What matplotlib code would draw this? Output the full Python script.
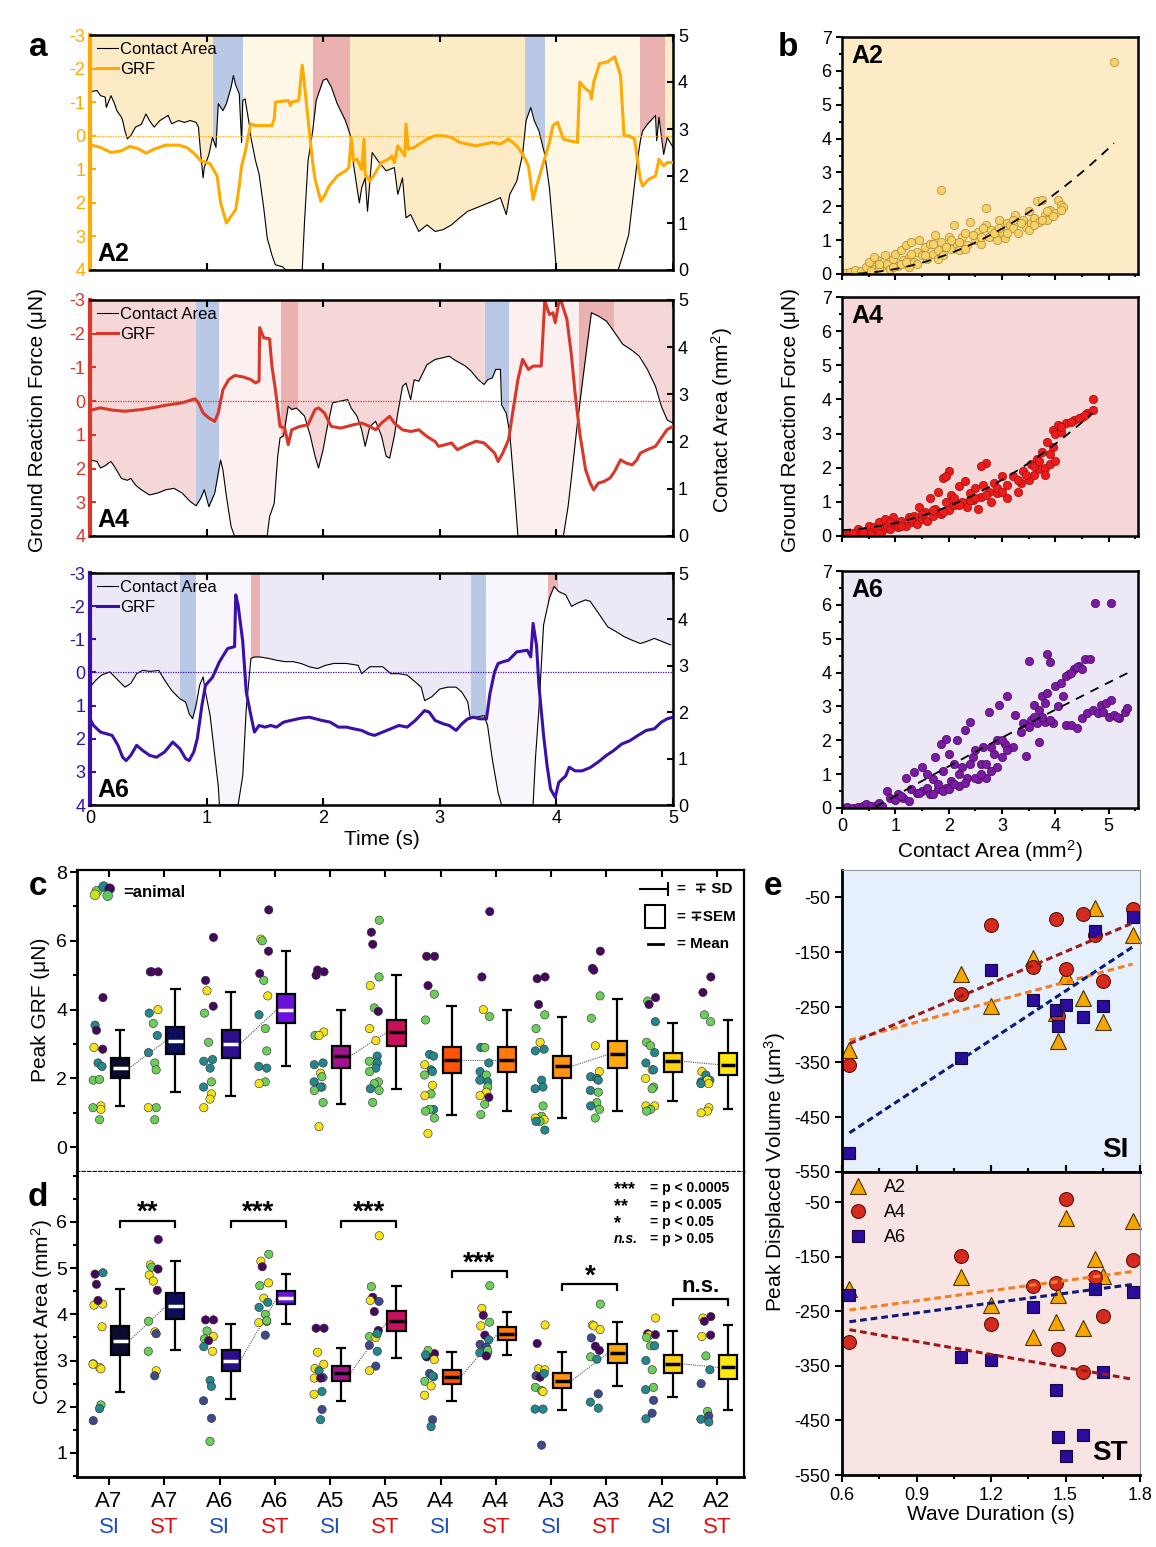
import numpy as np
import matplotlib
matplotlib.use('Agg')
import matplotlib.pyplot as plt
from matplotlib.patches import Rectangle
from matplotlib.lines import Line2D
from matplotlib.ticker import MultipleLocator

plt.rcParams['font.family'] = ['Liberation Sans', 'DejaVu Sans']
plt.rcParams['mathtext.default'] = 'regular'
plt.rcParams['axes.unicode_minus'] = False

# ---------------- panel a: time traces (time s, value) ----------------
a2_grf = [(0.0, 0.27), (0.09, 0.35), (0.18, 0.5), (0.27, 0.45), (0.34, 0.32), (0.41, 0.38), (0.48, 0.52),
          (0.55, 0.4), (0.65, 0.28), (0.76, 0.28), (0.83, 0.35), (0.90, 0.55), (0.95, 0.75), (1.03, 0.83),
          (1.09, 1.2), (1.12, 2.0), (1.17, 2.6), (1.23, 2.3), (1.25, 2.2), (1.28, 1.5), (1.30, 0.9),
          (1.33, 0.5), (1.37, -0.2), (1.38, -0.35), (1.42, -0.3), (1.56, -0.3), (1.58, -0.5), (1.59, -1.0),
          (1.70, -1.05), (1.72, -0.9), (1.73, -1.0), (1.79, -1.05), (1.82, -2.1), (1.84, -1.5), (1.87, -0.5),
          (1.91, 0.8), (1.93, 1.3), (1.98, 1.95), (2.01, 1.8), (2.05, 1.5), (2.12, 1.2), (2.19, 1.05),
          (2.22, 0.95), (2.24, 0.05), (2.26, 0.75), (2.29, 0.7), (2.33, 1.0), (2.35, 0.1), (2.36, 1.15),
          (2.40, 1.35), (2.43, 1.2), (2.50, 0.8), (2.56, 0.7), (2.59, 0.6), (2.61, 0.8), (2.64, 0.3),
          (2.70, 0.6), (2.71, -0.35), (2.73, 0.4), (2.78, 0.35), (2.89, 0.1), (2.96, 0.0), (3.03, 0.0),
          (3.10, 0.05), (3.17, 0.2), (3.24, 0.25), (3.31, 0.3), (3.38, 0.25), (3.45, 0.2), (3.52, 0.25),
          (3.59, 0.1), (3.66, 0.3), (3.71, 0.55), (3.76, 0.9), (3.80, 1.9), (3.83, 1.5), (3.88, 0.9),
          (3.94, 0.2), (3.97, -0.3), (4.01, -0.4), (4.06, 0.1), (4.11, 0.15), (4.18, 0.2), (4.20, -1.6),
          (4.25, -1.4), (4.29, -1.3), (4.30, -1.1), (4.32, -1.6), (4.37, -2.15), (4.44, -2.2), (4.50, -2.35),
          (4.55, -1.8), (4.58, 0.0), (4.62, 0.0), (4.67, 0.1), (4.72, 1.3), (4.74, 1.5), (4.79, 1.3),
          (4.85, 1.2), (4.88, 0.7), (4.92, 0.9), (4.95, 0.8), (5.0, 0.8)]
a2_ca = [(0.0, 3.79), (0.06, 3.82), (0.09, 3.71), (0.13, 3.68), (0.14, 3.46), (0.18, 3.71), (0.21, 3.54),
         (0.23, 3.39), (0.27, 3.25), (0.28, 3.18), (0.30, 2.96), (0.32, 2.79), (0.35, 2.86), (0.39, 3.04),
         (0.44, 3.1), (0.48, 3.32), (0.51, 3.18), (0.55, 3.04), (0.60, 3.18), (0.67, 3.29), (0.70, 3.11),
         (0.76, 3.18), (0.81, 3.14), (0.86, 3.18), (0.91, 3.14), (0.93, 3.04), (0.95, 2.46), (0.97, 1.96),
         (0.98, 2.18), (1.02, 2.46), (1.05, 2.82), (1.08, 2.61), (1.10, 3.54), (1.14, 3.39), (1.17, 3.54),
         (1.21, 3.89), (1.23, 4.14), (1.25, 3.93), (1.28, 3.75), (1.30, 2.71), (1.31, 3.61), (1.33, 3.64),
         (1.37, 3.04), (1.38, 2.82), (1.42, 2.32), (1.45, 2.04), (1.49, 1.32), (1.52, 0.68), (1.56, 0.32),
         (1.59, 0.11), (1.65, 0.07), (1.68, 0.0), (1.82, 0.0), (1.84, 1.04), (1.87, 2.32), (1.91, 2.96),
         (1.94, 3.61), (2.00, 4.04), (2.03, 4.07), (2.07, 3.89), (2.12, 3.54), (2.19, 3.18), (2.23, 2.89),
         (2.26, 2.25), (2.29, 1.75), (2.31, 1.43), (2.33, 1.75), (2.36, 1.96), (2.38, 1.25), (2.42, 2.5),
         (2.47, 2.32), (2.54, 2.11), (2.61, 2.18), (2.64, 1.61), (2.68, 1.96), (2.71, 1.11), (2.75, 1.18),
         (2.82, 0.82), (2.89, 0.96), (2.96, 0.82), (3.03, 0.86), (3.10, 0.96), (3.17, 1.11), (3.24, 1.25),
         (3.31, 1.32), (3.38, 1.39), (3.45, 1.46), (3.52, 1.54), (3.57, 1.18), (3.60, 1.61), (3.66, 1.89),
         (3.71, 2.46), (3.74, 3.18), (3.78, 3.46), (3.81, 3.18), (3.85, 2.96), (3.90, 2.46), (3.94, 1.75),
         (3.97, 0.89), (4.00, 0.0), (4.53, 0.0), (4.57, 0.32), (4.62, 0.75), (4.65, 1.39), (4.69, 2.25),
         (4.72, 2.75), (4.74, 2.96), (4.78, 3.1), (4.81, 3.18), (4.85, 3.29), (4.86, 2.75), (4.88, 3.25),
         (4.92, 2.46), (4.95, 2.82), (5.0, 2.61)]
a4_grf = [(0.0, 0.27), (0.09, 0.2), (0.20, 0.27), (0.30, 0.3), (0.44, 0.25), (0.55, 0.19), (0.65, 0.12),
          (0.79, 0.05), (0.90, -0.07), (0.93, 0.05), (0.97, 0.35), (1.02, 0.5), (1.07, 0.6), (1.10, 0.35),
          (1.14, -0.34), (1.19, -0.64), (1.24, -0.76), (1.31, -0.72), (1.38, -0.64), (1.42, -0.54),
          (1.45, -0.6), (1.455, -2.18), (1.49, -1.88), (1.54, -1.85), (1.56, -1.04), (1.59, -0.34),
          (1.63, 0.75), (1.67, 0.8), (1.70, 1.29), (1.73, 0.85), (1.80, 0.75), (1.87, 0.7), (1.93, 0.25),
          (1.96, 0.2), (2.01, 0.35), (2.07, 0.75), (2.15, 0.8), (2.26, 0.7), (2.33, 0.65), (2.40, 0.75),
          (2.45, 0.85), (2.50, 0.65), (2.57, 0.45), (2.61, 0.65), (2.68, 0.85), (2.75, 0.9), (2.82, 0.85),
          (2.89, 1.05), (2.96, 1.2), (2.99, 1.34), (3.05, 1.29), (3.10, 1.24), (3.15, 1.44), (3.24, 1.29),
          (3.31, 1.19), (3.38, 1.24), (3.41, 1.34), (3.47, 1.54), (3.50, 1.79), (3.54, 1.54), (3.59, 1.14),
          (3.62, 0.45), (3.67, -0.64), (3.71, -1.24), (3.76, -0.94), (3.80, -1.04), (3.87, -1.04),
          (3.90, -2.97), (3.94, -2.57), (3.97, -2.62), (3.99, -2.33), (4.02, -2.92), (4.04, -2.97),
          (4.09, -2.43), (4.13, -1.33), (4.16, -0.24), (4.20, 0.94), (4.25, 2.03), (4.29, 2.43),
          (4.32, 2.63), (4.36, 2.43), (4.41, 2.38), (4.46, 2.28), (4.50, 2.08), (4.55, 1.74), (4.60, 1.84),
          (4.65, 1.89), (4.69, 1.74), (4.72, 1.54), (4.78, 1.44), (4.85, 1.34), (4.90, 1.09), (4.95, 0.84),
          (5.0, 0.75)]
a4_ca = [(0.0, 1.61), (0.06, 1.58), (0.09, 1.44), (0.13, 1.49), (0.18, 1.58), (0.21, 1.47), (0.27, 1.22),
         (0.32, 1.18), (0.35, 1.22), (0.39, 1.08), (0.44, 0.98), (0.51, 0.87), (0.58, 0.91), (0.65, 0.98),
         (0.72, 1.01), (0.79, 0.91), (0.86, 0.73), (0.91, 0.64), (0.95, 0.80), (0.98, 0.98), (1.02, 0.62),
         (1.07, 0.91), (1.12, 1.61), (1.14, 1.4), (1.17, 0.84), (1.21, 0.2), (1.24, 0.0), (1.52, 0.0),
         (1.54, 0.41), (1.58, 0.69), (1.61, 1.69), (1.63, 2.08), (1.66, 2.12), (1.70, 2.75), (1.73, 2.68),
         (1.77, 2.71), (1.80, 2.64), (1.84, 2.54), (1.89, 2.12), (1.93, 1.69), (1.96, 1.44), (2.00, 1.84),
         (2.03, 2.25), (2.08, 2.82), (2.15, 2.86), (2.21, 2.89), (2.24, 2.71), (2.29, 2.54), (2.33, 2.25),
         (2.36, 1.9), (2.40, 2.32), (2.45, 2.43), (2.50, 2.12), (2.54, 1.69), (2.57, 1.65), (2.61, 2.12),
         (2.64, 2.61), (2.68, 3.17), (2.71, 3.24), (2.75, 2.89), (2.78, 3.31), (2.82, 3.28), (2.89, 3.63),
         (2.96, 3.74), (3.03, 3.78), (3.08, 3.81), (3.12, 3.74), (3.17, 3.67), (3.22, 3.6), (3.27, 3.49),
         (3.33, 3.31), (3.38, 3.21), (3.41, 3.31), (3.45, 3.35), (3.48, 3.53), (3.52, 3.53), (3.53, 2.78),
         (3.57, 2.6), (3.60, 2.18), (3.64, 0.98), (3.67, 0.0), (4.06, 0.0), (4.10, 0.62), (4.13, 1.26),
         (4.18, 2.39), (4.23, 3.39), (4.27, 4.16), (4.30, 4.73), (4.36, 4.66), (4.43, 4.55), (4.50, 4.31),
         (4.57, 4.06), (4.64, 3.95), (4.71, 3.81), (4.78, 3.53), (4.85, 3.17), (4.90, 2.75), (4.95, 2.46),
         (5.0, 2.39)]
a6_grf = [(0.0, 1.4), (0.03, 1.6), (0.09, 1.8), (0.14, 1.85), (0.19, 1.9), (0.24, 2.2), (0.28, 2.56),
          (0.31, 2.66), (0.35, 2.5), (0.40, 2.2), (0.45, 2.35), (0.51, 2.5), (0.57, 2.56), (0.64, 2.4),
          (0.71, 2.1), (0.77, 2.3), (0.82, 2.6), (0.85, 2.66), (0.89, 2.4), (0.92, 2.0), (0.96, 0.99),
          (0.99, 0.39), (1.05, 0.15), (1.11, -0.32), (1.18, -0.72), (1.24, -0.78), (1.25, -2.34),
          (1.27, -2.04), (1.31, -0.93), (1.34, 0.59), (1.38, 1.3), (1.41, 1.8), (1.45, 1.6), (1.50, 1.65),
          (1.55, 1.6), (1.60, 1.65), (1.66, 1.5), (1.72, 1.45), (1.81, 1.38), (1.88, 1.35), (1.99, 1.45),
          (2.06, 1.5), (2.13, 1.65), (2.20, 1.65), (2.26, 1.7), (2.33, 1.75), (2.39, 1.85), (2.44, 1.9),
          (2.51, 1.8), (2.58, 1.7), (2.65, 1.6), (2.72, 1.65), (2.79, 1.45), (2.87, 1.15), (2.91, 1.2),
          (2.96, 1.45), (3.03, 1.55), (3.08, 1.6), (3.14, 1.75), (3.19, 1.55), (3.24, 1.4), (3.29, 1.35),
          (3.34, 1.4), (3.40, 1.4), (3.43, 0.64), (3.47, -0.02), (3.50, -0.27), (3.54, -0.32), (3.59, -0.37),
          (3.66, -0.62), (3.75, -0.67), (3.78, -0.47), (3.80, -1.48), (3.83, -0.8), (3.85, 0.39), (3.89, 1.9),
          (3.92, 2.81), (3.95, 3.52), (3.99, 3.77), (4.02, 3.32), (4.08, 3.12), (4.11, 2.86), (4.16, 2.97),
          (4.22, 2.97), (4.29, 2.87), (4.36, 2.7), (4.43, 2.5), (4.49, 2.36), (4.56, 2.16), (4.63, 2.06),
          (4.70, 1.9), (4.77, 1.75), (4.84, 1.7), (4.90, 1.5), (4.95, 1.4), (5.0, 1.35)]
a6_ca = [(0.0, 2.54), (0.05, 2.69), (0.10, 2.8), (0.17, 2.87), (0.24, 2.69), (0.30, 2.54), (0.35, 2.62),
         (0.40, 2.83), (0.45, 2.9), (0.52, 2.88), (0.59, 2.9), (0.64, 2.69), (0.70, 2.47), (0.77, 2.29),
         (0.82, 2.22), (0.85, 1.97), (0.88, 1.86), (0.91, 2.15), (0.94, 2.58), (0.97, 2.76), (0.99, 2.44),
         (1.03, 1.93), (1.06, 1.28), (1.10, 0.41), (1.11, 0.0), (1.27, 0.0), (1.31, 0.63), (1.34, 2.07),
         (1.38, 3.16), (1.41, 3.19), (1.46, 3.19), (1.53, 3.16), (1.60, 3.12), (1.67, 3.09), (1.74, 3.09),
         (1.81, 3.05), (1.88, 2.98), (1.95, 2.94), (2.02, 3.01), (2.09, 3.05), (2.20, 3.05), (2.30, 3.01),
         (2.33, 2.83), (2.40, 2.98), (2.51, 2.98), (2.58, 2.83), (2.65, 2.83), (2.72, 2.8), (2.79, 2.65),
         (2.84, 2.54), (2.87, 2.25), (2.93, 2.33), (3.00, 2.5), (3.07, 2.54), (3.14, 2.54), (3.19, 2.43),
         (3.24, 2.22), (3.26, 1.89), (3.31, 1.89), (3.38, 1.93), (3.41, 1.71), (3.45, 0.99), (3.50, 0.27),
         (3.53, 0.0), (3.80, 0.0), (3.82, 0.99), (3.85, 2.07), (3.89, 3.88), (3.94, 4.46), (3.98, 4.71),
         (4.02, 4.6), (4.08, 4.53), (4.13, 4.28), (4.18, 4.35), (4.25, 4.42), (4.29, 4.39), (4.32, 4.28),
         (4.37, 4.1), (4.44, 3.84), (4.51, 3.74), (4.58, 3.63), (4.65, 3.55), (4.72, 3.48), (4.77, 3.52),
         (4.84, 3.59), (4.91, 3.52), (4.98, 3.45)]
a2_bands = [(1.055, 1.31, 'blue'), (1.31, 1.91, 'pale'), (1.91, 2.23, 'pink'),
            (3.73, 3.90, 'blue'), (3.90, 4.72, 'pale'), (4.72, 4.93, 'pink')]
a4_bands = [(0.91, 1.11, 'blue'), (1.11, 1.64, 'pale'), (1.64, 1.78, 'pink'),
            (3.39, 3.59, 'blue'), (3.59, 4.19, 'pale'), (4.19, 4.49, 'pink')]
a6_bands = [(0.77, 0.91, 'blue'), (0.91, 1.38, 'pale'), (1.38, 1.46, 'pink'),
            (3.27, 3.40, 'blue'), (3.40, 3.93, 'pale'), (3.93, 4.01, 'pink')]

# ---------------- panel b: GRF vs contact area (area, force) ----------------
b_a2 = [(0.0, 0.0), (0.1, 0.0), (0.2, 0.02), (0.3, 0.05), (0.4, 0.1), (0.05, 0.03), (0.15, 0.05), (0.25, 0.12),
        (0.35, 0.08), (0.45, 0.2), (0.5, 0.35), (0.6, 0.15), (0.65, 0.4), (0.75, 0.25), (0.8, 0.55), (0.85, 0.3),
        (0.9, 0.15), (0.95, 0.45), (1.0, 0.6), (1.05, 0.25), (1.1, 0.7), (1.15, 0.4), (1.2, 0.85), (1.25, 0.5),
        (1.25, 0.2), (1.3, 0.95), (1.35, 0.35), (1.4, 0.65), (1.45, 1.0), (1.5, 0.55), (1.55, 0.8), (1.6, 0.45),
        (1.65, 0.9), (1.7, 0.6), (1.75, 1.15), (1.8, 0.7), (1.85, 0.95), (1.85, 2.48), (1.9, 0.55), (2.0, 1.1),
        (2.05, 0.75), (2.1, 1.45), (2.15, 0.9), (2.2, 0.7), (2.25, 1.1), (2.3, 1.2), (2.35, 0.85), (2.4, 1.55),
        (2.5, 1.0), (2.55, 1.25), (2.6, 0.9), (2.7, 1.45), (2.7, 1.95), (2.75, 1.1), (2.8, 1.3), (2.9, 1.0),
        (2.95, 1.6), (3.0, 1.25), (3.05, 1.05), (3.1, 1.5), (3.15, 1.45), (3.2, 1.35), (3.25, 1.75), (3.3, 1.2),
        (3.4, 1.6), (3.45, 1.4), (3.5, 1.85), (3.55, 1.5), (3.6, 1.65), (3.65, 2.15), (3.7, 1.55), (3.75, 2.2),
        (3.8, 1.75), (3.85, 1.6), (3.9, 1.9), (4.0, 1.8), (4.05, 2.2), (4.1, 2.05), (4.15, 1.98), (5.1, 6.25),
        (0.55, 0.1), (0.7, 0.2), (0.95, 0.2), (1.1, 0.3), (1.3, 0.6), (1.4, 0.3), (1.55, 0.55), (1.7, 0.9),
        (1.8, 0.45), (1.95, 0.8), (2.05, 1.0), (2.2, 0.95), (2.3, 0.75), (2.45, 1.15), (2.6, 1.1), (2.65, 1.35),
        (2.85, 1.2), (2.95, 1.35), (3.1, 1.2), (3.2, 1.6), (3.35, 1.5), (3.5, 1.3), (3.6, 1.45), (3.75, 1.6),
        (3.85, 1.85), (3.95, 1.7), (4.1, 1.9), (0.6, 0.5), (0.7, 0.3), (1.2, 0.35)]
b_a4 = [(0.05, 0.02), (0.15, 0.05), (0.25, 0.1), (0.3, 0.2), (0.35, 0.05), (0.45, 0.15), (0.5, 0.3), (0.55, 0.1),
        (0.6, 0.25), (0.7, 0.4), (0.75, 0.15), (0.8, 0.5), (0.85, 0.3), (0.9, 0.2), (0.95, 0.55), (1.0, 0.35),
        (1.05, 0.25), (1.1, 0.45), (1.2, 0.3), (1.25, 0.55), (1.3, 0.4), (1.35, 0.6), (1.4, 0.35), (1.45, 0.85),
        (1.5, 0.5), (1.55, 0.7), (1.6, 0.45), (1.65, 1.1), (1.7, 0.6), (1.75, 0.8), (1.8, 1.3), (1.85, 0.65),
        (1.9, 1.7), (1.95, 1.0), (2.0, 1.9), (2.0, 0.75), (2.05, 1.2), (2.1, 0.9), (2.2, 1.45), (2.25, 1.0),
        (2.3, 1.6), (2.35, 0.85), (2.4, 1.25), (2.45, 1.05), (2.5, 1.4), (2.55, 0.8), (2.6, 1.15), (2.65, 1.5),
        (2.7, 2.15), (2.75, 1.3), (2.8, 1.0), (2.85, 1.55), (2.9, 1.25), (3.0, 1.75), (3.1, 1.1), (3.2, 1.75),
        (3.3, 1.3), (3.35, 1.55), (3.4, 1.9), (3.5, 1.65), (3.55, 2.1), (3.6, 1.8), (3.65, 2.25), (3.7, 1.95),
        (3.75, 2.45), (3.8, 2.0), (3.85, 2.75), (3.9, 2.1), (3.95, 3.1), (4.0, 3.0), (4.05, 3.25), (4.1, 3.05),
        (4.2, 3.3), (4.35, 3.4), (4.5, 3.5), (4.6, 3.6), (4.7, 3.7), (4.7, 4.0), (3.95, 2.6), (4.0, 2.2),
        (0.2, 0.08), (0.4, 0.12), (0.65, 0.2), (0.7, 0.1), (0.9, 0.4), (1.1, 0.3), (1.3, 0.5), (1.5, 0.65),
        (1.7, 0.75), (1.9, 0.7), (2.1, 1.1), (2.2, 0.9), (2.4, 1.05), (2.5, 1.1), (2.7, 1.2), (2.9, 1.4),
        (3.0, 1.3), (3.1, 1.5), (3.3, 1.65), (3.45, 1.8), (3.6, 2.05), (3.7, 2.2), (3.8, 1.8), (3.9, 2.4),
        (4.1, 3.2), (4.3, 3.35), (4.45, 3.45), (4.55, 3.55), (2.6, 2.05), (1.95, 1.75)]
b_a6 = [(0.0, 0.0), (0.1, 0.02), (0.2, 0.01), (0.3, 0.03), (0.4, 0.05), (0.45, 0.12), (0.55, 0.05), (0.65, 0.1),
        (0.7, 0.15), (0.75, 0.05), (0.85, 0.5), (0.9, 0.3), (1.0, 0.25), (1.05, 0.4), (1.15, 0.3), (1.2, 0.9),
        (1.25, 0.2), (1.3, 0.55), (1.35, 1.05), (1.4, 0.45), (1.5, 1.2), (1.5, 0.5), (1.6, 0.6), (1.65, 0.4),
        (1.7, 0.85), (1.75, 1.5), (1.8, 0.55), (1.85, 1.9), (1.9, 1.1), (1.95, 2.05), (1.95, 0.6), (2.0, 1.6),
        (2.05, 0.8), (2.1, 1.3), (2.15, 2.0), (2.2, 0.65), (2.25, 1.2), (2.3, 2.3), (2.35, 0.9), (2.4, 2.55),
        (2.45, 1.5), (2.5, 1.7), (2.55, 0.85), (2.6, 1.3), (2.65, 1.8), (2.7, 0.9), (2.75, 2.85), (2.8, 1.1),
        (2.85, 1.6), (2.9, 2.0), (2.95, 3.05), (3.0, 1.5), (3.05, 1.9), (3.1, 3.3), (3.2, 1.8), (3.25, 2.75),
        (3.35, 2.25), (3.4, 2.5), (3.45, 1.55), (3.5, 4.35), (3.55, 2.6), (3.6, 3.05), (3.7, 1.95), (3.7, 2.9),
        (3.75, 3.3), (3.8, 2.55), (3.85, 4.55), (3.85, 3.4), (3.9, 4.3), (3.95, 2.5), (4.0, 3.6), (4.05, 3.0),
        (4.1, 3.7), (4.15, 3.3), (4.2, 2.45), (4.25, 3.95), (4.3, 2.45), (4.35, 4.1), (4.4, 2.35), (4.45, 4.2),
        (4.5, 2.65), (4.55, 4.4), (4.6, 2.8), (4.65, 4.4), (4.7, 2.9), (4.8, 2.8), (4.85, 3.05), (4.95, 3.1),
        (5.0, 2.7), (5.05, 3.2), (5.1, 2.75), (5.2, 2.65), (5.3, 2.85), (5.35, 2.95), (4.75, 6.05), (5.05, 6.05),
        (1.7, 0.4), (1.8, 0.7), (1.9, 0.5), (2.0, 0.55), (2.1, 0.7), (2.2, 1.0), (2.3, 0.75), (2.4, 1.3),
        (2.5, 0.9), (2.6, 1.0), (2.7, 1.3), (2.8, 1.8), (2.9, 1.2), (3.0, 2.0), (3.1, 1.7), (3.5, 2.4),
        (3.6, 2.7), (3.65, 2.5), (3.75, 2.7), (3.8, 3.1), (3.9, 2.6), (4.2, 3.9), (4.3, 4.0), (4.4, 4.15),
        (4.5, 4.1), (4.9, 2.85), (5.15, 2.7), (1.6, 1.0), (1.45, 0.45), (1.1, 0.35)]

# ---------------- panels c/d: per-segment summaries ----------------
groups = ['A7', 'A7', 'A6', 'A6', 'A5', 'A5', 'A4', 'A4', 'A3', 'A3', 'A2', 'A2']
states = ['SI', 'ST'] * 6
box_colors = ['#0b0b2e', '#0d0d5c', '#2b0f90', '#6a12dc', '#a3128f', '#c8105e',
              '#ff5308', '#ff790c', '#ff9410', '#ffa912', '#ffd214', '#ffe812']
mean_colors = ['white'] * 4 + ['black'] * 8

c_mean = [2.3, 3.1, 3.0, 4.0, 2.65, 3.35, 2.55, 2.55, 2.35, 2.7, 2.5, 2.4]
c_box_lo = [2.0, 2.7, 2.6, 3.6, 2.3, 2.95, 2.15, 2.2, 2.0, 2.3, 2.2, 2.1]
c_box_hi = [2.6, 3.5, 3.4, 4.45, 2.95, 3.7, 2.9, 2.9, 2.65, 3.1, 2.75, 2.75]
c_sd_lo = [1.2, 1.6, 1.5, 2.35, 1.25, 1.7, 0.95, 1.05, 0.85, 1.05, 1.35, 1.1]
c_sd_hi = [3.4, 4.6, 4.5, 5.7, 4.0, 5.0, 4.1, 4.0, 3.8, 4.3, 3.6, 3.7]
c_dots = [
    "4.35p 3.55t 3.4p 2.85p 2.9y 2.45t 2.35t 1.95g 1.97g 1.2y 1.15g 1.1y 0.8g",
    "5.1p 5.1p 5.1p 4.0y 3.9t 3.6g 3.25t 2.75t 2.45g 2.25g 1.15y 1.15g 0.8g",
    "6.1p 4.85p 4.55y 4.1p 3.9g 3.05g 2.55t 2.5t 2.3t 1.9g 1.75t 1.55y 1.4y 1.15y",
    "6.9p 6.05y 6.0g 5.7p 5.05p 4.85g 4.4y 3.85t 3.45g 2.8g 2.35t 2.3t 1.9g 1.85y",
    "5.1p 5.0p 5.15p 3.35y 3.25g 3.25y 2.45t 2.4t 2.15y 2.05g 1.9t 1.75g 1.75t 1.65g 1.3g 0.6y",
    "6.6g 6.25p 5.9p 4.95g 4.7y 4.05g 3.95p 3.45y 3.1y 2.65t 2.5g 2.45t 2.3t 2.2g 1.9g 1.85g 1.7t 1.65g 1.3g",
    "5.55p 5.55p 4.7p 4.45g 3.7g 2.7t 2.65t 2.4y 2.25t 2.2t 2.1g 1.8y 1.55g 1.5y 1.1t 1.1g 1.05g 0.85g 0.4y",
    "6.85p 4.95p 4.0y 3.8g 2.9t 2.9g 2.45t 2.2t 2.1g 1.9t 1.95t 1.75g 1.6y 1.5y 1.45p 1.25g 0.95g",
    "4.95p 4.9p 4.15p 3.85g 3.45g 3.05y 2.85t 2.8t 1.95t 1.75t 1.7t 1.2g 0.9g 0.85y 0.8y 0.75g 0.75t 0.5t",
    "5.7p 5.2p 5.15p 4.4g 3.75g 2.95y 2.2y 2.05t 2.0t 1.95t 1.65t 1.6g 1.3g 1.2t 1.1g 0.85g",
    "4.35p 4.25g 4.15p 3.65t 3.05g 2.95g 2.75t 2.45t 2.25y 2.25t 2.0y 1.75g 1.7g 1.2y 1.2y 1.1g 1.05g",
    "4.95p 4.5p 3.85g 3.65g 2.2y 2.1t 1.95t 1.9t 1.95y 1.85y 1.85t 1.15y 1.05y 1.0y",
]

d_mean = [3.43, 4.18, 2.98, 4.35, 2.72, 3.85, 2.65, 3.58, 2.56, 3.17, 2.93, 2.85]
d_box_lo = [3.13, 3.9, 2.77, 4.22, 2.55, 3.63, 2.5, 3.45, 2.4, 2.95, 2.73, 2.6]
d_box_hi = [3.75, 4.47, 3.22, 4.5, 2.88, 4.07, 2.8, 3.72, 2.73, 3.35, 3.13, 3.13]
d_sd_lo = [2.33, 3.22, 2.17, 3.8, 2.13, 3.06, 2.13, 3.12, 1.92, 2.46, 2.22, 1.94]
d_sd_hi = [4.55, 5.15, 3.8, 4.88, 3.27, 4.62, 3.18, 4.05, 3.18, 3.83, 3.65, 3.77]
d_dots = [
    "4.9t 4.87p 4.65p 4.22y 4.2y 4.3p 3.73y 2.93t 2.85y 2.82y 2.92y 2.04g 1.96t 1.7b",
    "5.62p 5.07y 5.02g 4.98p 4.85y 4.72y 4.52p 3.85g 3.62y 3.58b 3.2g 2.78y 2.67b",
    "3.88p 3.88p 3.64g 3.52y 3.47g 3.43p 3.2y 3.3t 2.57t 2.44t 2.13b 1.75b 1.25g",
    "5.3g 5.15y 5.03p 4.68y 4.62g 4.35y 4.26t 4.15t 4.0g 3.85p 3.82y 3.86g 3.55b",
    "3.7p 3.7p 3.18y 2.92y 2.83y 2.78t 2.63b 2.62y 2.62p 2.33t 2.27y 1.94b 1.72t",
    "5.7y 4.6g 4.37p 4.28b 4.3y 4.06p 3.65p 3.52g 3.5y 3.58t 3.33b 3.2t 2.88b 2.78y",
    "3.15p 3.08p 3.22g 3.02y 3.12t 2.72b 2.65t 2.55g 2.45y 2.67t 2.25y 1.72b 1.57t",
    "4.62g 4.13y 3.98p 3.83g 3.75y 3.55p 3.45t 3.35b 3.29b 3.17g 3.17t 3.22g 3.1p",
    "3.77y 3.37p 2.82y 2.8y 2.67b 2.64p 2.72t 2.42g 2.35g 2.33y 1.95t 1.95t 1.17b",
    "4.22g 3.77y 3.75y 3.67y 3.49b 3.31p 3.22p 3.08g 3.03t 2.28b 2.1t 1.97t",
    "3.92y 3.58p 3.55y 3.56p 3.5g 3.32g 3.32t 3.0t 2.8g 2.42g 2.37t 2.14b 1.86b 1.74t",
    "3.95p 3.92y 3.85p 3.55p 3.52y 3.1g 2.8t 2.5b 1.9g 1.8b 1.73t 1.67t",
]
sig_labels = ['**', '***', '***', '***', '*', 'n.s.']
sig_heights = [6.03, 6.03, 6.03, 4.94, 4.66, 4.33]
dot_palette = {'p': '#46085c', 'b': '#3e4a89', 't': '#25868e', 'g': '#6ccd5a', 'y': '#f4e31c'}

# ---------------- panel e: displaced volume vs wave duration ----------------
wave_dur = [0.63, 1.08, 1.2, 1.37, 1.46, 1.47, 1.5, 1.57, 1.62, 1.65, 1.77]
si_a2 = [-328, -189, -248, -161, -261, -311, -193, -234, -69, -277, -118]
si_a4 = [-355, -225, -100, -176, -89, -266, -180, -81, -118, -202, -71]
si_a6 = [-515, -343, -182, -237, -255, -284, -246, -267, -112, -248, -86]
st_a2 = [-210, -187, -239, -297, -270, -220, -79, -280, -155, -185, -84]
st_a4 = [-306, -148, -274, -204, -198, -320, -44, -361, -188, -259, -157]
st_a6 = [-220, -334, -340, -243, -394, -480, -516, -477, -209, -362, -215]
e_names = ['A2', 'A4', 'A6']

W, H = 1156, 1547
fig = plt.figure(figsize=(W / 100, H / 100), dpi=100)


def px_axes(l, t, r, b):
    return fig.add_axes([l / W, 1 - b / H, (r - l) / W, (b - t) / H])


# ---------------- a ----------------
band_colors = {'blue': '#b9c9e5', 'pink': '#ebb0b0'}
trace_panels = [
    ('A2', (90, 35, 673, 270), a2_grf, a2_ca, a2_bands, '#ffaa00', '#fdebc6', '#fff7e6'),
    ('A4', (90, 300, 673, 536), a4_grf, a4_ca, a4_bands, '#d8382a', '#f6d7d7', '#fcefef'),
    ('A6', (90, 573, 673, 805), a6_grf, a6_ca, a6_bands, '#3a10a8', '#ece8f6', '#f8f6fc'),
]
for k, (name, box, grf, ca, bands, col, bg, pale) in enumerate(trace_panels):
    ax = px_axes(*box)
    ax2 = ax.twinx()
    ax.set_zorder(ax2.get_zorder() + 1)
    ax.patch.set_visible(False)
    ax2.patch.set_visible(True)
    ax2.patch.set_facecolor(bg)
    for s, e, kind in bands:
        ax2.axvspan(s, e, color=band_colors.get(kind, pale), lw=0, zorder=0)
    tc, vc = np.array(ca).T
    ax2.fill_between(tc, 0, vc, color='white', lw=0, zorder=1)
    ax2.plot(tc, vc, color='black', lw=0.8, zorder=2)
    ax2.set_ylim(0, 5)
    ax2.set_yticks(range(6))
    ax2.tick_params(axis='y', labelsize=13, direction='in', width=1.5, length=4)

    tg, vg = np.array(grf).T
    ax.axhline(0, color=col, lw=0.9, ls=(0, (1, 1)))
    ax.plot(tg, vg, color=col, lw=2.2)
    ax.set_xlim(0, 5)
    ax.set_ylim(4, -3)
    ax.set_yticks(range(-3, 5))
    ax.tick_params(axis='y', labelsize=13, colors=col, direction='in', width=1.5, length=4)
    ax.set_xticks(range(6))
    ax.tick_params(axis='x', direction='in', top=True, width=1.5, length=5, labelsize=13,
                   labelbottom=(k == 2))
    ax.spines['left'].set_color(col)
    ax.spines['left'].set_linewidth(3)
    ax.spines['right'].set_visible(False)
    for sp in ('top', 'bottom'):
        ax.spines[sp].set_linewidth(1.8)
    for sp in ('left', 'top', 'bottom'):
        ax2.spines[sp].set_visible(False)
    ax2.spines['right'].set_linewidth(1.8)
    handles = [Line2D([], [], color='black', lw=0.8), Line2D([], [], color=col, lw=2.2)]
    ax.legend(handles, ['Contact Area', 'GRF'], loc='upper left', frameon=False, fontsize=12,
              handlelength=1.3, handletextpad=0.1, borderaxespad=0.2, labelspacing=0.3, borderpad=0.2)
    ax.text(0.012, 0.015, name, transform=ax.transAxes, fontsize=18, fontweight='bold', va='bottom')
    if k == 2:
        ax.set_xlabel('Time (s)', fontsize=15, labelpad=2)

# ---------------- b ----------------
scatter_panels = [
    ('A2', (842, 37, 1138, 274), b_a2, '#f7d26a', '#a8862c', '#fdebc6', 'square'),
    ('A4', (842, 297, 1138, 536), b_a4, '#ee1b1b', '#9a0e0e', '#f6d7d7', 'poly2'),
    ('A6', (842, 571, 1138, 808), b_a6, '#7b1aa3', '#45095f', '#ece8f6', 'poly2'),
]
for k, (name, box, pts, fc, ec, bg, model) in enumerate(scatter_panels):
    ax = px_axes(*box)
    ax.set_facecolor(bg)
    x, y = np.array(pts).T
    ax.scatter(x, y, s=36, c=fc, edgecolors=ec, linewidths=0.5, zorder=2)
    xf = np.linspace(0, x.max(), 120)
    if model == 'square':
        c2 = np.sum(x ** 2 * y) / np.sum(x ** 4)
        yf = c2 * xf ** 2
    else:
        yf = np.polyval(np.polyfit(x, y, 2), xf)
    keep = yf >= 0
    ax.plot(xf[keep], yf[keep], color='black', lw=1.3, ls=(0, (5, 4)), zorder=3)
    ax.set_xlim(0, 5.55)
    ax.set_ylim(0, 7)
    ax.set_yticks(range(8))
    ax.yaxis.set_minor_locator(MultipleLocator(0.5))
    ax.set_xticks(range(6))
    ax.xaxis.set_minor_locator(MultipleLocator(0.5))
    ax.tick_params(which='both', labelsize=13, width=1.5, length=4)
    ax.tick_params(which='minor', length=2.5)
    ax.tick_params(axis='x', labelbottom=(k == 2))
    for sp in ax.spines.values():
        sp.set_linewidth(1.8)
    ax.text(0.03, 0.97, name, transform=ax.transAxes, fontsize=18, fontweight='bold', va='top')
    if k == 2:
        ax.set_xlabel('Contact Area (mm$^2$)', fontsize=15, labelpad=2)

# ---------------- c / d ----------------
pos = np.arange(1, 13)
BOX_OFF, BOX_W, CAP_W = 0.2, 0.33, 0.19


def parse_dots(s):
    items = s.split()
    return [float(it[:-1]) for it in items], [dot_palette[it[-1]] for it in items]


def draw_boxes(ax, mean, blo, bhi, slo, shi, dots):
    for i, p in enumerate(pos):
        xc = p + BOX_OFF
        ax.vlines(xc, slo[i], blo[i], color='black', lw=1.6, zorder=2)
        ax.vlines(xc, bhi[i], shi[i], color='black', lw=1.6, zorder=2)
        ax.hlines([slo[i], shi[i]], xc - CAP_W / 2, xc + CAP_W / 2, color='black', lw=1.6, zorder=2)
        ax.add_patch(Rectangle((xc - BOX_W / 2, blo[i]), BOX_W, bhi[i] - blo[i],
                               fc=box_colors[i], ec='black', lw=1.6, zorder=3))
        ax.hlines(mean[i], xc - BOX_W / 2 + 0.03, xc + BOX_W / 2 - 0.03, color=mean_colors[i], lw=2.5, zorder=4)
        vals, cols = parse_dots(dots[i])
        offs = -0.2 + 0.09 * np.cos(np.arange(len(vals)) * 2.2)
        ax.scatter(p + offs, vals, s=36, c=cols, edgecolors='#2a2a2a', linewidths=0.4, zorder=2)
    for i in range(0, 12, 2):
        ax.plot([pos[i] + BOX_OFF + BOX_W / 2, pos[i + 1] + BOX_OFF - BOX_W / 2], [mean[i], mean[i + 1]],
                color='#555555', lw=0.8, ls=(0, (1, 1)), zorder=1)
    ax.set_xlim(0.42, 12.49)


ax_c = px_axes(77, 870, 744, 1172)
draw_boxes(ax_c, c_mean, c_box_lo, c_box_hi, c_sd_lo, c_sd_hi, c_dots)
ax_c.set_ylim(-0.72, 8.06)
ax_c.set_yticks([0, 2, 4, 6, 8])
ax_c.yaxis.set_minor_locator(MultipleLocator(1))
ax_c.set_xticks(pos)
ax_c.tick_params(axis='x', bottom=False, top=True, direction='in', labelbottom=False, width=1.5, length=5)
ax_c.tick_params(axis='y', which='both', labelsize=14, width=1.5, length=5, pad=2)
ax_c.tick_params(axis='y', which='minor', length=3)
ax_c.spines['bottom'].set_linestyle((0, (1, 1.5)))
ax_c.spines['bottom'].set_linewidth(1.6)
ax_c.spines['left'].set_linewidth(2)
ax_c.spines['top'].set_linewidth(1.6)
ax_c.spines['right'].set_linewidth(1.6)

# legend glyphs for c
cluster = ['#6ccd5a', '#25868e', '#46085c', '#c8e020', '#5ec962']
cx, cy = [0.030, 0.040, 0.049, 0.027, 0.046], [0.93, 0.945, 0.938, 0.918, 0.915]
ax_c.scatter(cx, cy, s=50, c=cluster, edgecolors='#333333', linewidths=0.4, transform=ax_c.transAxes, zorder=5,
             clip_on=False)
ax_c.text(0.07, 0.925, '=animal', transform=ax_c.transAxes, fontsize=12, fontweight='bold', va='center')
ax_c.plot([0.844, 0.886], [0.937, 0.937], color='black', lw=1.5, transform=ax_c.transAxes)
ax_c.plot([0.886, 0.886], [0.917, 0.957], color='black', lw=1.5, transform=ax_c.transAxes)
ax_c.text(0.9, 0.937, '=  ∓ SD', transform=ax_c.transAxes, fontsize=11, fontweight='bold', va='center')
ax_c.add_patch(Rectangle((0.852, 0.808), 0.03, 0.075, transform=ax_c.transAxes, fc='white', ec='black', lw=1.5))
ax_c.text(0.9, 0.845, '= ∓SEM', transform=ax_c.transAxes, fontsize=11, fontweight='bold', va='center')
ax_c.plot([0.856, 0.879], [0.755, 0.755], color='black', lw=2, transform=ax_c.transAxes)
ax_c.text(0.9, 0.755, '= Mean', transform=ax_c.transAxes, fontsize=11, fontweight='bold', va='center')

ax_d = px_axes(77, 1172, 744, 1477)
draw_boxes(ax_d, d_mean, d_box_lo, d_box_hi, d_sd_lo, d_sd_hi, d_dots)
ax_d.set_ylim(0.48, 7.08)
ax_d.set_yticks(range(1, 7))
ax_d.yaxis.set_minor_locator(MultipleLocator(0.5))
ax_d.set_xticks(pos)
ax_d.set_xticklabels(groups, fontsize=16)
ax_d.tick_params(axis='x', direction='out', width=1.5, length=6, pad=4)
ax_d.tick_params(axis='y', which='both', labelsize=14, width=1.5, length=5, pad=2)
ax_d.tick_params(axis='y', which='minor', length=3)
ax_d.spines['top'].set_visible(False)
ax_d.spines['left'].set_linewidth(2)
ax_d.spines['bottom'].set_linewidth(2)
ax_d.spines['right'].set_linewidth(1.6)
for p, s in zip(pos, states):
    ax_d.text(p, -0.165, s, transform=ax_d.get_xaxis_transform(), ha='center', va='center', fontsize=16,
              color='#1f4fbf' if s == 'SI' else '#e01010')
for k, (lab, h) in enumerate(zip(sig_labels, sig_heights)):
    x0, x1 = pos[2 * k] + BOX_OFF, pos[2 * k + 1] + BOX_OFF
    ax_d.plot([x0, x0, x1, x1], [h - 0.13, h, h, h - 0.13], color='black', lw=1.6)
    if lab == 'n.s.':
        ax_d.text((x0 + x1) / 2, h + 0.05, lab, ha='center', va='bottom', fontsize=16, fontweight='bold')
    else:
        ax_d.text((x0 + x1) / 2, h - 0.12, lab, ha='center', va='bottom', fontsize=20, fontweight='bold')
sig_key = [('***', '= p < 0.0005'), ('**', '= p < 0.005'), ('*', '= p < 0.05'), ('n.s.', '= p > 0.05')]
for r, (a, b) in enumerate(sig_key):
    yy = 0.948 - r * 0.056
    ax_d.text(0.805, yy - (0.006 if a != 'n.s.' else 0), a, transform=ax_d.transAxes,
              fontsize=13 if a != 'n.s.' else 10, fontweight='bold',
              style='italic' if a == 'n.s.' else 'normal', va='center')
    ax_d.text(0.859, yy, b, transform=ax_d.transAxes, fontsize=10, fontweight='bold', va='center')

# ---------------- e ----------------
e_markers = ['^', 'o', 's']
e_sizes = [11, 10, 9]
e_face = ['#f5a700', '#d52b1e', '#2c0c9c']
e_edge = ['#4a3500', '#5a1208', '#140838']
si_fit_colors = ['#f57f20', '#9e1a1a', '#0c1a78']
st_fit_colors = ['#f57f20', '#0c1a78', '#9e1a1a']
e_panels = [
    ('SI', (842, 870, 1140, 1172), [si_a2, si_a4, si_a6], si_fit_colors, '#e6f0fc', (-550, 0)),
    ('ST', (842, 1172, 1140, 1475), [st_a2, st_a4, st_a6], st_fit_colors, '#f9e4e4', (-550, 5)),
]
xd = np.array(wave_dur)
for k, (tag, box, series, fitcols, bg, ylim) in enumerate(e_panels):
    ax = px_axes(*box)
    ax.set_facecolor(bg)
    for j, vals in enumerate(series):
        ax.plot(xd, vals, ls='none', marker=e_markers[j], ms=e_sizes[j], mfc=e_face[j], mec=e_edge[j],
                mew=0.8, label=e_names[j], zorder=2, clip_on=False)
    for j, vals in enumerate(series):
        coef = np.polyfit(xd, vals, 1)
        xx = np.array([xd.min(), xd.max()])
        ax.plot(xx, np.polyval(coef, xx), color=fitcols[j], lw=2.2, ls=(0, (2.2, 1.3)), zorder=3)
    ax.set_xlim(0.6, 1.8)
    ax.set_ylim(*ylim)
    ax.set_yticks([-50, -150, -250, -350, -450, -550])
    ax.set_xticks([0.6, 0.9, 1.2, 1.5, 1.8])
    ax.xaxis.set_minor_locator(MultipleLocator(0.15))
    ax.tick_params(axis='y', labelsize=13, width=1.5, length=5)
    ax.spines['left'].set_linewidth(2)
    ax.spines['bottom'].set_linewidth(2)
    ax.spines['right'].set_color('#999999')
    ax.spines['right'].set_linewidth(0.8)
    if k == 0:
        ax.spines['top'].set_color('#999999')
        ax.spines['top'].set_linewidth(0.8)
        ax.tick_params(axis='x', which='both', direction='in', labelbottom=False, width=1.5, length=5)
        ax.tick_params(axis='x', which='minor', length=3)
    else:
        ax.spines['top'].set_linewidth(2)
        ax.tick_params(axis='x', which='both', direction='out', top=True, labelsize=13, width=1.5, length=5)
        ax.tick_params(axis='x', which='minor', length=3)
        ax.set_xticklabels(['0.6', '0.9', '1.2', '1.5', '1.8'])
        ax.legend(loc='upper left', frameon=False, fontsize=13, handlelength=1.0, handletextpad=0.9,
                  labelspacing=0.45, borderaxespad=0.1, borderpad=0.3)
        ax.set_xlabel('Wave Duration (s)', fontsize=15, labelpad=1)
    ax.text(0.96, 0.03, tag, transform=ax.transAxes, ha='right', va='bottom', fontsize=20, fontweight='bold')

# ---------------- shared labels ----------------
fig.text(38 / W, 1 - 420 / H, 'Ground Reaction Force (μN)', rotation=90, fontsize=15, ha='center', va='center')
fig.text(722 / W, 1 - 420 / H, 'Contact Area (mm$^2$)', rotation=90, fontsize=15, ha='center', va='center')
fig.text(790 / W, 1 - 420 / H, 'Ground Reaction Force (μN)', rotation=90, fontsize=15, ha='center', va='center')
fig.text(40 / W, 1 - 1010 / H, 'Peak GRF (μN)', rotation=90, fontsize=15, ha='center', va='center')
fig.text(42 / W, 1 - 1312 / H, 'Contact Area (mm$^2$)', rotation=90, fontsize=15, ha='center', va='center')
fig.text(775 / W, 1 - 1172 / H, 'Peak Displaced Volume (μm$^3$)', rotation=90, fontsize=15, ha='center',
         va='center')
for letter, (lx, ly) in zip('abcde', [(38, 48), (788, 48), (38, 887), (38, 1198), (773, 887)]):
    fig.text(lx / W, 1 - ly / H, letter, fontsize=24, fontweight='bold', ha='center', va='center')

fig.savefig('out.png', dpi=100)
